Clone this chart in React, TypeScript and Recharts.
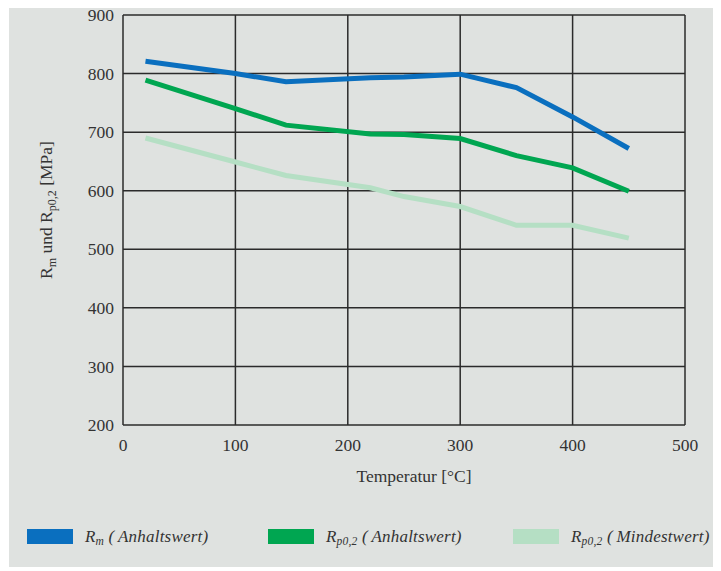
import { LineChart, Line, XAxis, YAxis, CartesianGrid } from 'recharts'

const temps = [20, 100, 145, 220, 250, 300, 350, 400, 450]
const rmAnhalt = [821, 800, 786, 793, 794, 799, 776, 726, 672]
const rpAnhalt = [789, 740, 712, 697, 696, 689, 660, 639, 599]
const rpMindest = [690, 649, 626, 605, 590, 573, 541, 541, 519]

const xTicks = [0, 100, 200, 300, 400, 500]
const yTicks = [200, 300, 400, 500, 600, 700, 800, 900]

const BLUE = '#0a6fbf'
const GREEN = '#00a651'
const LIGHT = '#b5dfc4'
const BG = '#dfe2e0'
const INK = '#2b2b2b'
const FONT = 'Liberation Serif, serif'

const data = temps.map((t, i) => ({
  t,
  rm: rmAnhalt[i],
  rp: rpAnhalt[i],
  rpMin: rpMindest[i],
}))

const tickStyle = { fontSize: 17.5, fill: '#333', fontFamily: FONT }

function LegendItem({ color, sub, text, left }: { color: string; sub: string; text: string; left: number }) {
  return (
    <div style={{ position: 'absolute', left, top: 529, display: 'flex', alignItems: 'center', height: 15 }}>
      <span style={{ display: 'inline-block', width: 46, height: 15, background: color, marginRight: 12 }} />
      <span style={{ fontFamily: FONT, fontStyle: 'italic', fontSize: 17, color: '#333', letterSpacing: 0.2, whiteSpace: 'nowrap' }}>
        R<sub style={{ fontSize: 11.5, verticalAlign: -3 }}>{sub}</sub> (&thinsp;{text})
      </span>
    </div>
  )
}

export default function App() {
  return (
    <div style={{ position: 'relative', marginTop: -8, marginLeft: 1, width: 712, height: 567, background: BG }}>
      <LineChart width={712} height={500} data={data} margin={{ top: 15, right: 36, left: 0, bottom: 15 }}>
        <CartesianGrid stroke={INK} strokeWidth={1.5} horizontalValues={yTicks} verticalValues={xTicks} />
        <XAxis
          dataKey="t"
          type="number"
          domain={[0, 500]}
          ticks={xTicks}
          axisLine={false}
          tickLine={false}
          tickMargin={8}
          height={60}
          tick={tickStyle}
          label={{
            content: () => (
              <text x={405} y={482} textAnchor="middle" style={tickStyle}>
                Temperatur [°C]
              </text>
            ),
          }}
        />
        <YAxis
          type="number"
          domain={[200, 900]}
          ticks={yTicks}
          axisLine={false}
          tickLine={false}
          tickMargin={3}
          width={114}
          tick={tickStyle}
          label={{
            content: () => (
              <text transform="translate(43,210) rotate(-90)" textAnchor="middle" style={tickStyle}>
                R<tspan fontSize={12} dy={4}>m</tspan>
                <tspan dy={-4}> und R</tspan>
                <tspan fontSize={12} dy={4}>p0,2</tspan>
                <tspan dy={-4}> [MPa]</tspan>
              </text>
            ),
          }}
        />
        <Line dataKey="rpMin" stroke={LIGHT} strokeWidth={5} dot={false} isAnimationActive={false} />
        <Line dataKey="rp" stroke={GREEN} strokeWidth={5} dot={false} isAnimationActive={false} />
        <Line dataKey="rm" stroke={BLUE} strokeWidth={5} dot={false} isAnimationActive={false} />
      </LineChart>
      <LegendItem color={BLUE} sub="m" text="Anhaltswert" left={18} />
      <LegendItem color={GREEN} sub="p0,2" text="Anhaltswert" left={259} />
      <LegendItem color={LIGHT} sub="p0,2" text="Mindestwert" left={504} />
    </div>
  )
}
